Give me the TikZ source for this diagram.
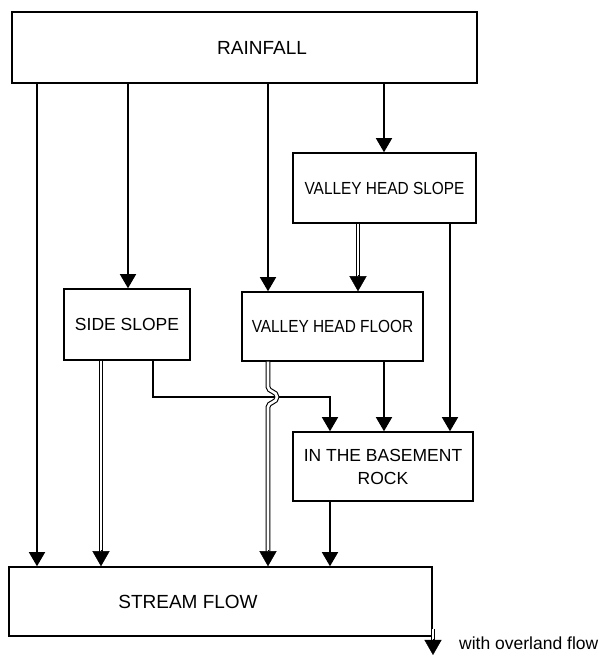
\documentclass[tikz,border=0pt]{standalone}
\usepackage{fontspec}
\setmainfont{Liberation Sans}
\newfontfamily\narrowfont[FakeStretch=0.88]{Liberation Sans}
\usetikzlibrary{arrows.meta,calc}

\begin{document}
\begin{tikzpicture}[
  x=1pt, y=1pt,
  >={Triangle[length=14pt, width=16pt]},
  box/.style={rectangle, draw, line width=1.5pt, inner sep=0pt, align=center,
              font=\fontsize{17.5}{23}\selectfont},
  wide/.style={box, font=\fontsize{19}{23}\selectfont},
  vh/.style={box, font=\narrowfont\fontsize{17.5}{23}\selectfont},
  flow/.style={->, line width=1.3pt},
  over/.style={double, double distance=2.6pt, line width=1.1pt, shorten >=12pt},
  tip/.style={-{Triangle[length=15pt, width=17pt]}, line width=0.4pt},
]
\useasboundingbox (0,0) rectangle (598,656);

% boxes
\node[wide, minimum width=465pt, minimum height=71pt] (rain) at (244.5,608.5) {\hspace*{35pt}RAINFALL};
\node[vh, minimum width=183pt, minimum height=70pt] (vhs) at (384.5,468) {VALLEY HEAD SLOPE};
\node[box, minimum width=126pt, minimum height=71pt] (ss) at (127,331.5) {SIDE SLOPE};
\node[vh, minimum width=181pt, minimum height=69pt] (vhf) at (332.5,329.5) {VALLEY HEAD FLOOR};
\node[box, minimum width=180pt, minimum height=69pt] (bsm) at (383,189.5) {IN THE BASEMENT\\ROCK};
\node[wide, minimum width=423pt, minimum height=69pt] (sf) at (220.5,54.5) {STREAM FLOW\hspace*{65pt}};

% columns of the connectors
\coordinate (cA) at (37,0);
\coordinate (cB) at (101,0);
\coordinate (cC) at (128,0);
\coordinate (cD) at (153,0);
\coordinate (cE) at (268,0);
\coordinate (cF) at (330,0);
\coordinate (cG) at (358,0);
\coordinate (cH) at (384,0);
\coordinate (cI) at (450,0);
\coordinate (hy) at (0,259);
\coordinate (cross) at (cE |- hy);

% rainfall
\draw[flow] (rain.south -| cA) -- (sf.north -| cA);
\draw[flow] (rain.south -| cC) -- (ss.north -| cC);
\draw[flow] (rain.south -| cE) -- (vhf.north -| cE);
\draw[flow] (rain.south -| cH) -- (vhs.north -| cH);

% slopes and floor (double shaft = with overland flow, tip drawn on top)
\draw[over] (vhs.south -| cG) -- (vhf.north -| cG);
\draw[tip] ($(vhf.north -| cG)+(0,16)$) -- (vhf.north -| cG);
\draw[flow] (vhs.south -| cI) -- (bsm.north -| cI);
\draw[over] (ss.south -| cB) -- (sf.north -| cB);
\draw[tip] ($(sf.north -| cB)+(0,16)$) -- (sf.north -| cB);
\draw[flow] (ss.south -| cD) |- (cF |- hy) -- (bsm.north -| cF);
\draw[over] (vhf.south -| cE) -- ([yshift=10pt]cross)
  .. controls +(0,-5) and +(0,6) .. ([xshift=9pt]cross)
  .. controls +(0,-6) and +(0,5) .. ([yshift=-10pt]cross) -- (sf.north -| cE);
\draw[tip] ($(sf.north -| cE)+(0,16)$) -- (sf.north -| cE);
\draw[flow] (vhf.south -| cH) -- (bsm.north -| cH);
\draw[flow] (bsm.south -| cF) -- (sf.north -| cF);

% key
\coordinate (keytop) at (433,27);
\coordinate (keytip) at (433,1);
\draw[over] (keytop) -- (keytip);
\draw[tip] ($(keytip)+(0,16)$) -- (keytip);
\node[anchor=west, inner sep=0pt, font=\fontsize{17.5}{21}\selectfont] (key) at (459,13) {with overland flow};

\end{tikzpicture}
\end{document}
